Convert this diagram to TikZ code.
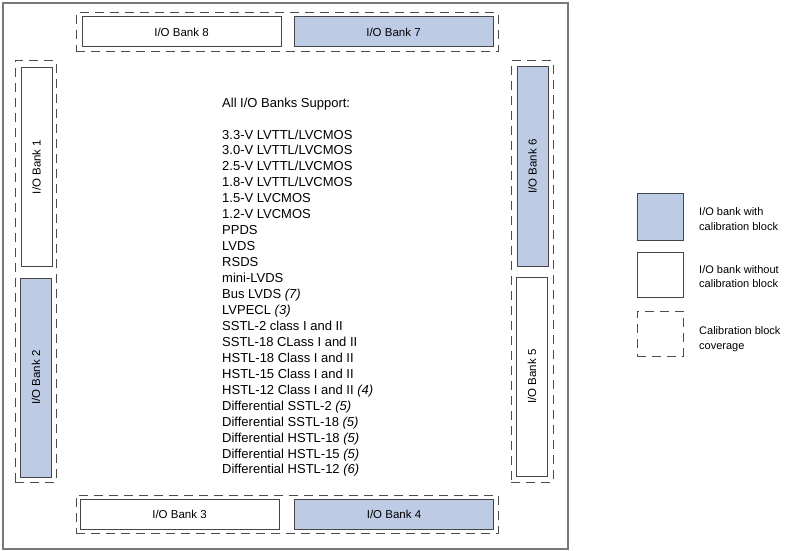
\documentclass[tikz,border=0pt]{standalone}
\usepackage{fontspec}
\setmainfont{Liberation Sans}
\definecolor{calblue}{RGB}{189,204,228}
\definecolor{bankline}{RGB}{70,70,70}
\definecolor{dashline}{RGB}{75,75,75}
\definecolor{frameline}{RGB}{120,120,120}
\tikzset{
  bank/.style={draw=bankline, line width=1pt, inner sep=0pt, font=\fontsize{11.5}{13}\selectfont},
  calbank/.style={bank, fill=calblue},
  plainbank/.style={bank, fill=white},
  hbank/.style={minimum width=199pt, minimum height=30pt},
  vbank/.style={minimum width=31pt, minimum height=199pt},
  cover/.style={draw=dashline, line width=1pt, dash pattern=on 9pt off 6pt, inner sep=0pt},
  lst/.style={anchor=base west, inner sep=0pt, font=\fontsize{13}{15}\selectfont},
  leg/.style={anchor=base west, inner sep=0pt, font=\fontsize{11}{14}\selectfont},
  vlab/.style={rotate=90, font=\fontsize{11.5}{13}\selectfont},
}
\begin{document}
\begin{tikzpicture}[x=1pt, y=-1pt]
\useasboundingbox (0,0) rectangle (787,551);
% outer frame
\node[draw=frameline, line width=1.2pt, minimum width=565pt, minimum height=546pt, inner sep=0pt] (chip) at (285.5,276) {};
% coverage areas
\node[cover, minimum width=422pt, minimum height=39pt] (covtop) at (287,32.5) {};
\node[cover, minimum width=422pt, minimum height=38pt] (covbot) at (287,514) {};
\node[cover, minimum width=41pt, minimum height=421pt] (covleft) at (35.5,271.5) {};
\node[cover, minimum width=42pt, minimum height=421pt] (covright) at (532,271.5) {};
% banks
\node[plainbank, hbank] (b8) at (181.5,32) {I/O Bank 8};
\node[calbank, hbank] (b7) at (393.5,32) {I/O Bank 7};
\node[plainbank, hbank] (b3) at (179.5,514) {I/O Bank 3};
\node[calbank, hbank] (b4) at (394,514) {I/O Bank 4};
\node[plainbank, vbank, minimum height=198pt] (b1) at (36.5,167) {};
\node[vlab] (t1) at (b1.center) {I/O Bank 1};
\node[calbank, vbank] (b2) at (36,377.5) {};
\node[vlab] (t2) at (b2.center) {I/O Bank 2};
\node[calbank, vbank] (b6) at (532.5,166.5) {};
\node[vlab] (t6) at (b6.center) {I/O Bank 6};
\node[plainbank, vbank] (b5) at (532,376.5) {};
\node[vlab] (t5) at (b5.center) {I/O Bank 5};
% list
\node[lst] (head) at (222,107.5) {All I/O Banks Support:};
\foreach \t [count=\i] in {
  3.3-V LVTTL/LVCMOS,
  3.0-V LVTTL/LVCMOS,
  2.5-V LVTTL/LVCMOS,
  1.8-V LVTTL/LVCMOS,
  1.5-V LVCMOS,
  1.2-V LVCMOS,
  PPDS,
  LVDS,
  RSDS,
  mini-LVDS,
  Bus LVDS \textit{(7)},
  LVPECL \textit{(3)},
  SSTL-2 class I and II,
  SSTL-18 CLass I and II,
  HSTL-18 Class I and II,
  HSTL-15 Class I and II,
  HSTL-12 Class I and II \textit{(4)},
  Differential SSTL-2 \textit{(5)},
  Differential SSTL-18 \textit{(5)},
  Differential HSTL-18 \textit{(5)},
  Differential HSTL-15 \textit{(5)},
  Differential HSTL-12 \textit{(6)}}
  \node[lst] (l\i) at (222,{139+(\i-1)*15.95}) {\t};
% legend
\node[calbank, minimum width=46pt, minimum height=47pt] (lg1) at (660,216.5) {};
\node[plainbank, minimum width=46pt, minimum height=45pt] (lg2) at (660,274.5) {};
\node[cover, minimum width=46pt, minimum height=45pt] (lg3) at (660,333.5) {};
\node[leg] (lt1a) at (699,215.7) {I/O bank with};
\node[leg] (lt1b) at (699,230.2) {calibration block};
\node[leg] (lt2a) at (699,273) {I/O bank without};
\node[leg] (lt2b) at (699,287.5) {calibration block};
\node[leg] (lt3a) at (699,334.5) {Calibration block};
\node[leg] (lt3b) at (699,349) {coverage};
\end{tikzpicture}
\end{document}
